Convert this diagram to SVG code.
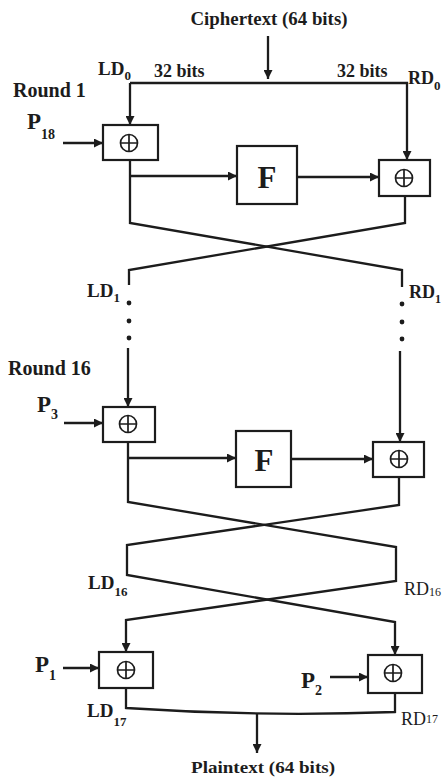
<svg xmlns="http://www.w3.org/2000/svg" width="442" height="778" viewBox="0 0 442 778">
<style>
.ln{fill:none;stroke:#1c1c1c;stroke-width:2.3;stroke-linejoin:miter}
.bx{fill:#fff;stroke:#1c1c1c;stroke-width:2.2}
.xc{fill:none;stroke:#1c1c1c;stroke-width:1.7}
.t{font-family:"Liberation Serif","Times New Roman",serif;font-weight:bold;fill:#1c1c1c}
.n{font-weight:normal}
.dot{fill:#1c1c1c}
</style>
<defs>
<marker id="ah" viewBox="0 0 10 10" refX="10" refY="5" markerWidth="11" markerHeight="9" markerUnits="userSpaceOnUse" orient="auto">
<path d="M0,0 L10,5 L0,10 z" fill="#1c1c1c"/>
</marker>
<g id="xor">
<circle cx="0" cy="0" r="8.5" class="xc"/>
<path d="M-8.5,0 H8.5 M0,-8.5 V8.5" class="xc"/>
</g>
</defs>
<rect width="442" height="778" fill="#fff"/>

<g id="labels">
<text class="t" x="269" y="25" font-size="19.5" text-anchor="middle" textLength="157" lengthAdjust="spacingAndGlyphs">Ciphertext (64 bits)</text>
<text class="t" x="98" y="75" font-size="19">LD<tspan font-size="13" dy="5">0</tspan></text>
<text class="t" x="154" y="77" font-size="18">32 bits</text>
<text class="t" x="337" y="77" font-size="18">32 bits</text>
<text class="t" x="408" y="84" font-size="18">RD<tspan font-size="13" dy="6">0</tspan></text>
<text class="t" x="13" y="97" font-size="20">Round 1</text>
<text class="t" x="27" y="129" font-size="23">P<tspan font-size="14" dy="10">18</tspan></text>
<text class="t" x="87" y="297" font-size="19">LD<tspan font-size="13" dy="5">1</tspan></text>
<text class="t" x="409" y="298" font-size="18">RD<tspan font-size="12" dy="5">1</tspan></text>
<text class="t" x="8" y="375" font-size="20">Round 16</text>
<text class="t" x="37" y="412" font-size="23">P<tspan font-size="14" dy="7">3</tspan></text>
<text class="t" x="88" y="589" font-size="19">LD<tspan font-size="13" dy="7">16</tspan></text>
<text class="t n" x="404" y="595" font-size="18">RD<tspan font-size="12" dy="1">16</tspan></text>
<text class="t" x="35" y="672" font-size="23">P<tspan font-size="14" dy="8">1</tspan></text>
<text class="t" x="301" y="688" font-size="23">P<tspan font-size="14" dy="7">2</tspan></text>
<text class="t" x="87" y="717" font-size="19">LD<tspan font-size="13" dy="9">17</tspan></text>
<text class="t n" x="401" y="725" font-size="18">RD<tspan font-size="12" dy="-2">17</tspan></text>
<text class="t" x="263" y="773" font-size="17" text-anchor="middle" textLength="144" lengthAdjust="spacingAndGlyphs">Plaintext (64 bits)</text>
</g>

<g id="connectors">
<line class="ln" x1="268" y1="36" x2="268" y2="79" marker-end="url(#ah)"/>
<path class="ln" d="M130,83 H407 V160" marker-end="url(#ah)"/>
<path class="ln" d="M130,83 V125" marker-end="url(#ah)"/>
<line class="ln" x1="63" y1="143" x2="103" y2="143" marker-end="url(#ah)"/>
<line class="ln" x1="130" y1="176" x2="237" y2="176" marker-end="url(#ah)"/>
<line class="ln" x1="297" y1="177" x2="379" y2="177" marker-end="url(#ah)"/>
<path class="ln" d="M130,160 V223 L402,270 V287"/>
<path class="ln" d="M405,196 V223 L129,270 V285"/>
<line class="ln" x1="128" y1="348" x2="128" y2="407" marker-end="url(#ah)"/>
<line class="ln" x1="400" y1="351" x2="400" y2="442" marker-end="url(#ah)"/>
<line class="ln" x1="64" y1="423" x2="103" y2="423" marker-end="url(#ah)"/>
<line class="ln" x1="128" y1="458" x2="236" y2="458" marker-end="url(#ah)"/>
<line class="ln" x1="291" y1="459" x2="373" y2="459" marker-end="url(#ah)"/>
<path class="ln" d="M128,442 V502 L396,547 V581 L126,620 V652" marker-end="url(#ah)"/>
<path class="ln" d="M399,477 V505 L127,545 V575 L395,622 V655" marker-end="url(#ah)"/>
<line class="ln" x1="63" y1="668" x2="99" y2="668" marker-end="url(#ah)"/>
<line class="ln" x1="330" y1="677" x2="368" y2="677" marker-end="url(#ah)"/>
<path class="ln" d="M126,688 V708 Q260,717 395,712 V693"/>
<line class="ln" x1="257" y1="713" x2="257" y2="753" marker-end="url(#ah)"/>
<circle class="dot" cx="129" cy="303" r="2.4"/>
<circle class="dot" cx="129" cy="321" r="2.4"/>
<circle class="dot" cx="129" cy="338" r="2.4"/>
<circle class="dot" cx="402" cy="304" r="2.4"/>
<circle class="dot" cx="402" cy="322" r="2.4"/>
<circle class="dot" cx="402" cy="339" r="2.4"/>
</g>

<g id="xor1L"><rect class="bx" x="103" y="125" width="55" height="35"/><use href="#xor" x="129" y="143"/></g>
<g id="F1"><rect class="bx" x="237" y="146" width="60" height="58"/><text class="t" x="267" y="188" font-size="31" text-anchor="middle">F</text></g>
<g id="xor1R"><rect class="bx" x="379" y="160" width="51" height="36"/><use href="#xor" x="404" y="178"/></g>

<g id="xor16L"><rect class="bx" x="103" y="407" width="52" height="35"/><use href="#xor" x="128" y="424"/></g>
<g id="F16"><rect class="bx" x="236" y="431" width="55" height="56"/><text class="t" x="264" y="471" font-size="31" text-anchor="middle">F</text></g>
<g id="xor16R"><rect class="bx" x="373" y="442" width="51" height="35"/><use href="#xor" x="399" y="459"/></g>

<g id="xorP1"><rect class="bx" x="99" y="652" width="54" height="36"/><use href="#xor" x="126" y="670"/></g>
<g id="xorP2"><rect class="bx" x="368" y="655" width="54" height="38"/><use href="#xor" x="393" y="673"/></g>
</svg>
